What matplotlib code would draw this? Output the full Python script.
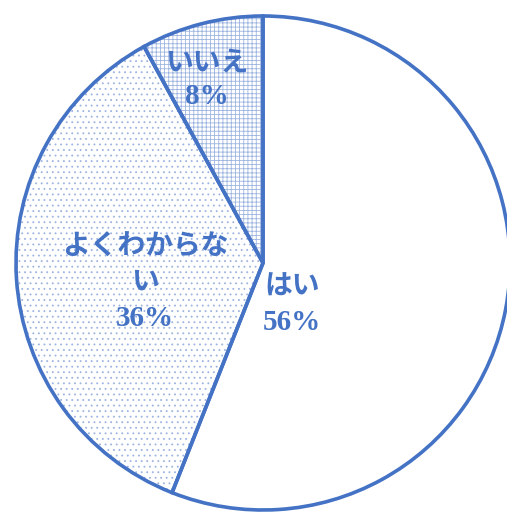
import matplotlib.pyplot as plt

# 回答の内訳
labels = ['はい', 'よくわからない', 'いいえ']
values = [56, 36, 8]
hatches = ['', '...', '++++']

blue = '#4472C4'
plt.rcParams['hatch.linewidth'] = 0.6

fig = plt.figure(figsize=(5.07, 5.14), dpi=100)
ax = fig.add_axes([0, 0, 1, 1])

# 塗り（ハッチ）用
wedges, _ = ax.pie(values, startangle=90, counterclock=False, radius=1,
                   wedgeprops=dict(facecolor='white', edgecolor='#9db4e0', linewidth=0))
for w, h in zip(wedges, hatches):
    w.set_hatch(h)

# 外枠
ax.pie(values, startangle=90, counterclock=False, radius=1,
       wedgeprops=dict(fill=False, edgecolor=blue, linewidth=2.6))

ax.set_xlim(-263 / 247, (507 - 263) / 247)
ax.set_ylim(-(514 - 263) / 247, 263 / 247)
ax.set_aspect('auto')
ax.axis('off')

jp = ['Noto Sans CJK JP', 'DejaVu Sans']
serif = ['Liberation Serif', 'DejaVu Serif']


def put(px, py, s, fam, size):
    ax.text((px - 263) / 247, (263 - py) / 247, s, ha='center', va='center',
            color=blue, fontsize=size, fontweight='bold', family=fam)


put(207, 63, labels[2], jp, 20)
put(207, 96, f'{values[2]}%', serif, 21)
put(145, 247, labels[1][:-1], jp, 20)
put(145, 282, labels[1][-1], jp, 20)
put(145, 319, f'{values[1]}%', serif, 21)
put(292, 287, labels[0], jp, 20)
put(292, 322, f'{values[0]}%', serif, 21)

fig.savefig('out.png', dpi=100)
